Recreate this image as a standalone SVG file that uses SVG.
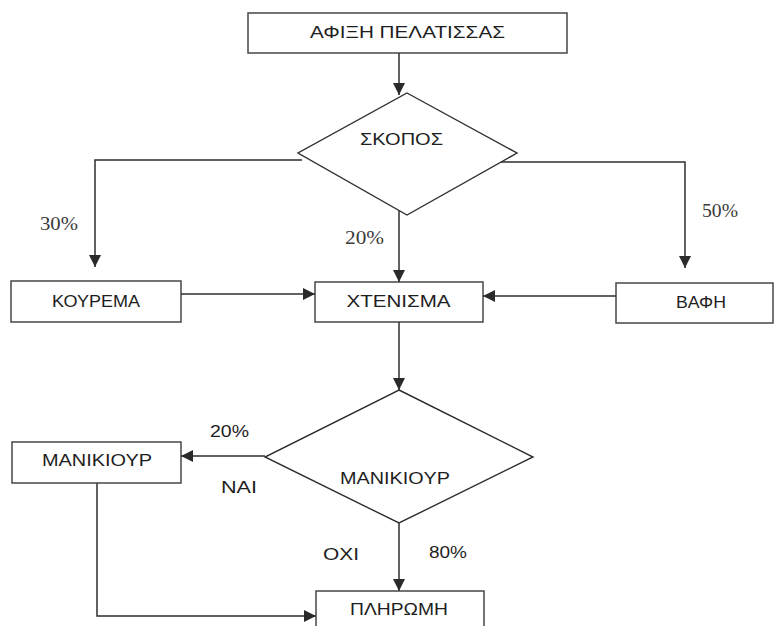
<svg xmlns="http://www.w3.org/2000/svg" width="776" height="626" viewBox="0 0 776 626">
<defs>
<style>
.box{fill:#fff;stroke:#3a3a3a;stroke-width:1.4}
.dia{fill:#fff;stroke:#2e2e2e;stroke-width:1.4}
.t{font-family:"Liberation Sans","DejaVu Sans",Arial,sans-serif;font-size:16px;fill:#1e1e1e;text-anchor:middle}
.s{font-family:"Liberation Serif","Times New Roman",serif;font-size:19px;fill:#3a3a3a;text-anchor:middle}
.c{fill:none;stroke:#2e2e2e;stroke-width:1.5}
</style>
<marker id="ah" viewBox="0 0 12 12" refX="12" refY="6" markerWidth="12" markerHeight="12" markerUnits="userSpaceOnUse" orient="auto">
<path d="M0,0 L12,6 L0,12 z" fill="#2a2a2a"/>
</marker>
</defs>
<rect width="776" height="626" fill="#fff"/>
<g id="connectors">
<line class="c" x1="399" y1="53" x2="399" y2="95" marker-end="url(#ah)"/>
<polyline class="c" points="302,160 95,160 95,267" marker-end="url(#ah)"/>
<polyline class="c" points="501,162 685,162 685,268" marker-end="url(#ah)"/>
<line class="c" x1="399" y1="210" x2="399" y2="282" marker-end="url(#ah)"/>
<line class="c" x1="181" y1="294" x2="315" y2="294" marker-end="url(#ah)"/>
<line class="c" x1="616" y1="296" x2="483" y2="296" marker-end="url(#ah)"/>
<line class="c" x1="399" y1="322" x2="399" y2="390" marker-end="url(#ah)"/>
<line class="c" x1="265" y1="456" x2="181" y2="456" marker-end="url(#ah)"/>
<line class="c" x1="399" y1="523" x2="399" y2="591" marker-end="url(#ah)"/>
<polyline class="c" points="97,483 97,616 316,616" marker-end="url(#ah)"/>
<text class="s" x="59" y="230" textLength="38" lengthAdjust="spacingAndGlyphs">30%</text>
<text class="s" x="364.5" y="244" textLength="39" lengthAdjust="spacingAndGlyphs">20%</text>
<text class="s" x="720" y="217" textLength="36" lengthAdjust="spacingAndGlyphs">50%</text>
<text class="t" x="229.5" y="437" textLength="39" lengthAdjust="spacingAndGlyphs">20%</text>
<text class="t" x="239" y="493" textLength="36" lengthAdjust="spacingAndGlyphs">ΝΑΙ</text>
<text class="t" x="341" y="560" textLength="36" lengthAdjust="spacingAndGlyphs">ΟΧΙ</text>
<text class="t" x="448" y="558" textLength="38" lengthAdjust="spacingAndGlyphs">80%</text>
</g>
<g id="arrival">
<rect class="box" x="248" y="13" width="319" height="40"/>
<text class="t" x="407.5" y="38" textLength="195" lengthAdjust="spacingAndGlyphs">ΑΦΙΞΗ ΠΕΛΑΤΙΣΣΑΣ</text>
</g>
<g id="skopos">
<polygon class="dia" points="407,93 517,153 407,215 298,153"/>
<text class="t" x="401.5" y="145" font-size="17" textLength="83" lengthAdjust="spacingAndGlyphs">ΣΚΟΠΟΣ</text>
</g>
<g id="koyrema">
<rect class="box" x="11" y="281" width="170" height="41"/>
<text class="t" x="96" y="307" textLength="88" lengthAdjust="spacingAndGlyphs">ΚΟΥΡΕΜΑ</text>
</g>
<g id="xtenisma">
<rect class="box" x="315" y="282" width="168" height="40"/>
<text class="t" x="398.5" y="307" textLength="104" lengthAdjust="spacingAndGlyphs">ΧΤΕΝΙΣΜΑ</text>
</g>
<g id="vafi">
<rect class="box" x="616" y="283" width="157" height="40"/>
<text class="t" x="701" y="308" textLength="50" lengthAdjust="spacingAndGlyphs">ΒΑΦΗ</text>
</g>
<g id="manikiour-decision">
<polygon class="dia" points="399,390 533,457 399,523 265,457"/>
<text class="t" x="395" y="484" font-size="18" textLength="110" lengthAdjust="spacingAndGlyphs">MANIKIOYP</text>
</g>
<g id="manikiour">
<rect class="box" x="12" y="442" width="169" height="41"/>
<text class="t" x="97" y="466" textLength="110" lengthAdjust="spacingAndGlyphs">ΜΑΝΙΚΙΟΥΡ</text>
</g>
<g id="pliromi">
<rect class="box" x="316" y="591" width="168" height="50"/>
<text class="t" x="399" y="615" textLength="98" lengthAdjust="spacingAndGlyphs">ΠΛΗΡΩΜΗ</text>
</g>
</svg>
